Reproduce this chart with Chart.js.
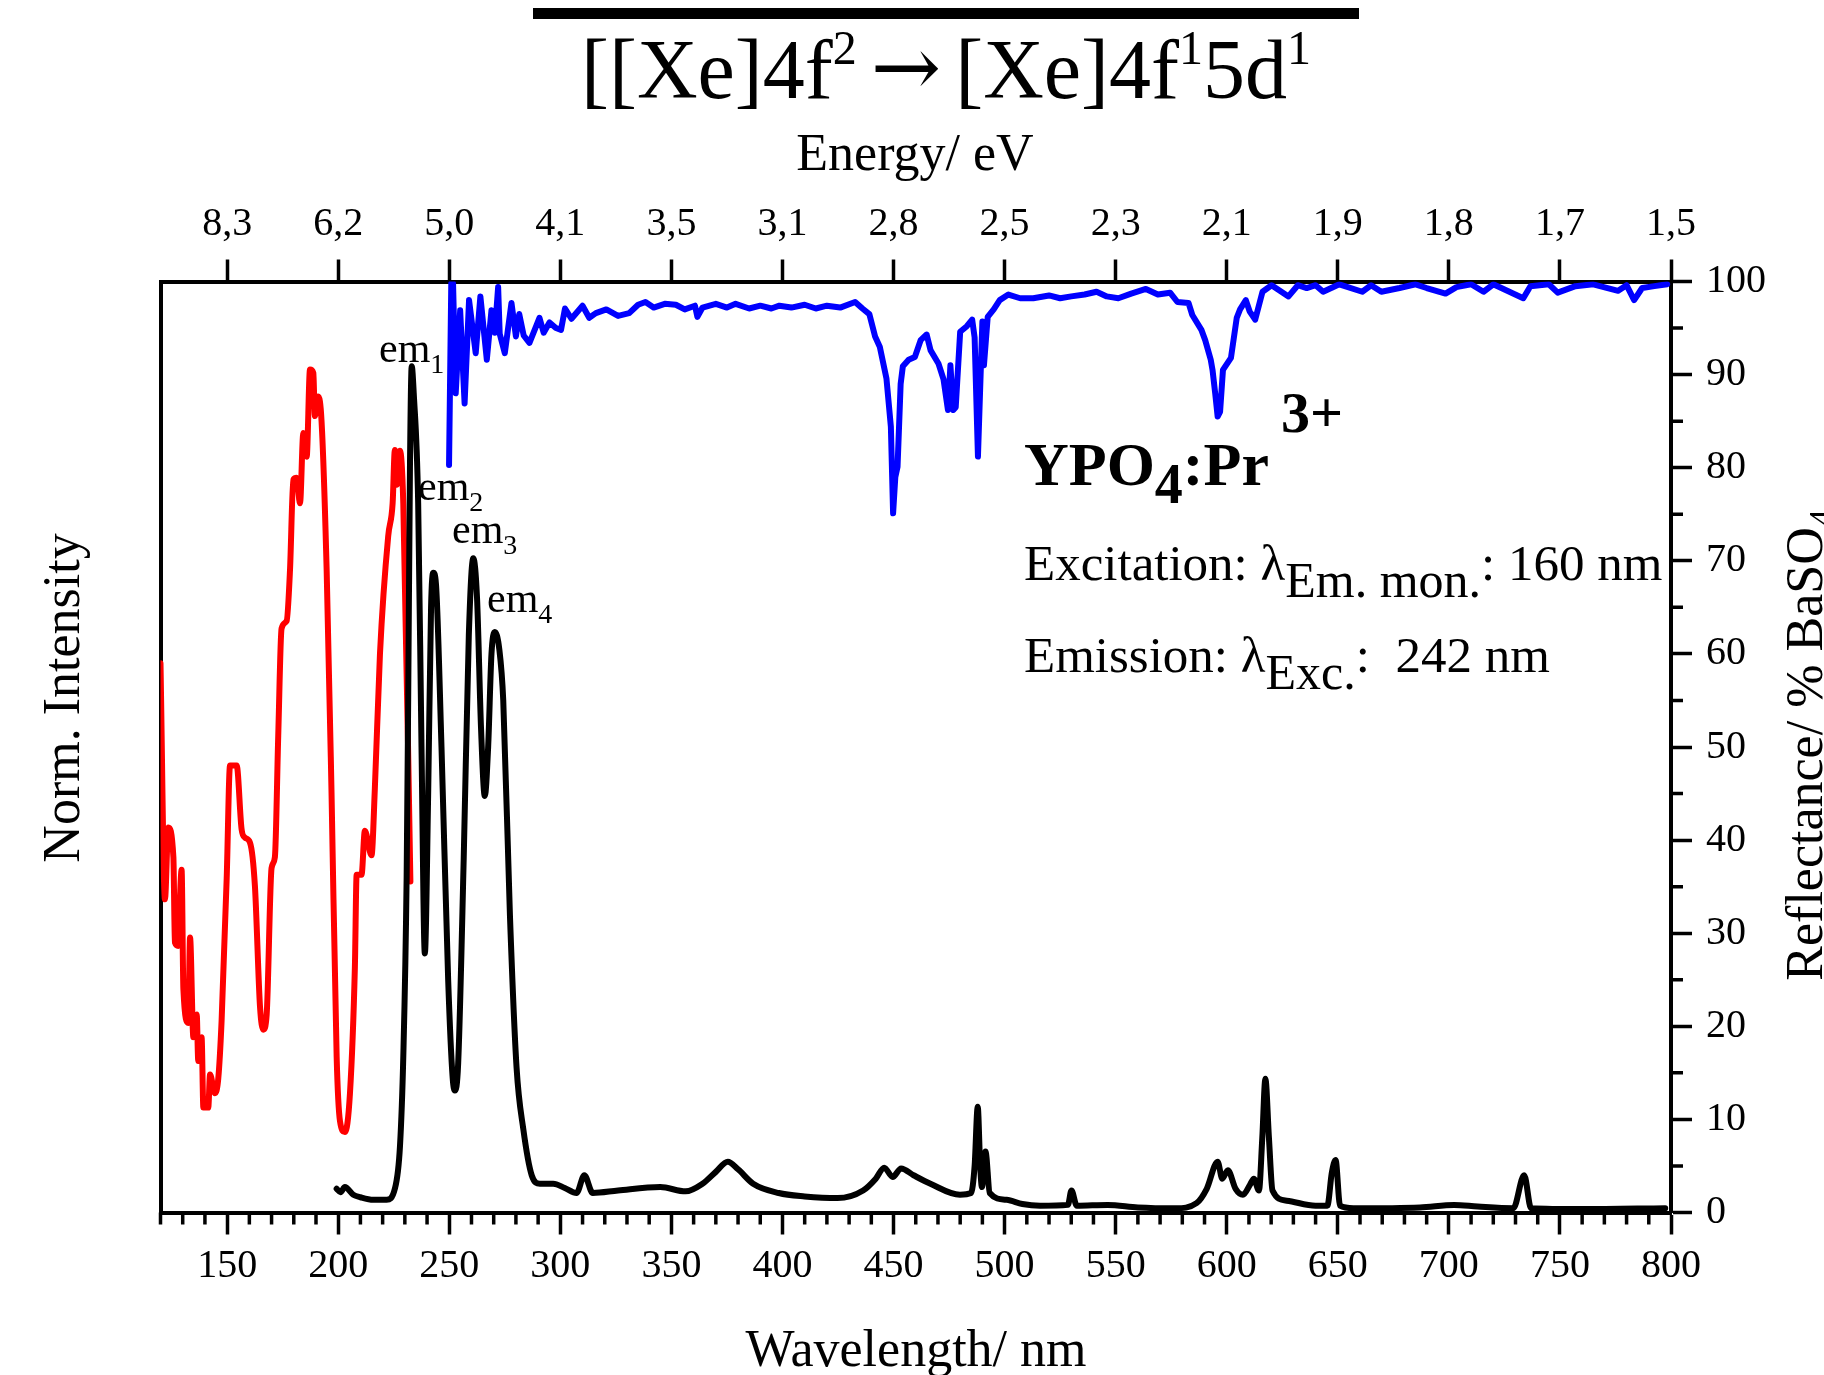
<!DOCTYPE html>
<html>
<head>
<meta charset="utf-8">
<script src="https://cdn.jsdelivr.net/npm/chart.js@4.4.0/dist/chart.umd.min.js"></script>
<style>
  html, body { margin: 0; padding: 0; background: #fff; }
  canvas { display: block; }
</style>
</head>
<body>
<canvas id="spectraChart" width="1824" height="1375"></canvas>
<script>
// Excitation spectrum (red), lambda_em mon. = 160 nm, normalized
const excWavelength = [
  120.0, 122.0, 123.5, 125.8, 126.5, 128.0, 128.8, 129.5, 130.3, 132.5,
  133.3, 134.8, 136.3, 137.0, 138.5, 139.3, 141.5, 142.3, 144.5, 146.0,
  147.5, 149.8, 151.3, 154.3, 156.5, 158.0, 160.3, 162.5, 164.8, 166.3,
  167.8, 170.0, 171.5, 173.0, 174.5, 176.8, 178.3, 179.8, 181.3, 182.8,
  184.3, 185.8, 187.3, 188.8, 189.5, 191.0, 192.5, 194.8, 197.0, 199.3,
  200.8, 203.0, 205.3, 207.5, 208.3, 210.5, 212.0, 215.0, 216.5, 218.8,
  222.5, 224.5, 225.5, 226.5, 227.8, 229.3, 232.5
];
const excIntensity = [
  0.649, 0.370, 0.455, 0.420, 0.319, 0.315, 0.374, 0.405, 0.264, 0.224,
  0.325, 0.207, 0.234, 0.179, 0.207, 0.124, 0.124, 0.163, 0.141, 0.158,
  0.226, 0.395, 0.528, 0.528, 0.453, 0.443, 0.437, 0.386, 0.243, 0.216,
  0.234, 0.407, 0.420, 0.563, 0.690, 0.699, 0.759, 0.866, 0.868, 0.838,
  0.921, 0.893, 0.996, 0.992, 0.941, 0.964, 0.935, 0.759, 0.495, 0.184,
  0.108, 0.095, 0.141, 0.289, 0.399, 0.399, 0.451, 0.422, 0.501, 0.660,
  0.799, 0.838, 0.901, 0.860, 0.900, 0.838, 0.391
];

// Emission spectrum (black), lambda_exc = 242 nm, normalized
const emWavelength = [
  199.3, 201.0, 203.0, 206.8, 210.0, 215.8, 221.8, 225.5, 227.8, 229.3,
  230.8, 231.5, 232.3, 233.1, 234.0, 236.0, 237.5, 239.0, 240.5, 241.8,
  242.8, 244.0, 246.5, 249.5, 251.5, 252.5, 254.0, 256.5, 258.8, 260.8,
  262.5, 264.3, 266.0, 267.5, 269.0, 270.5, 272.5, 274.3, 277.3, 280.3,
  283.3, 287.1, 290.8, 296.8, 302.0, 307.3, 310.8, 314.6, 326.0, 345.0,
  356.4, 364.0, 370.0, 375.4, 380.0, 386.8, 398.3, 410.0, 424.8, 436.3,
  442.0, 445.8, 449.6, 453.4, 459.0, 466.6, 479.9, 484.9, 486.5, 487.9,
  489.0, 489.8, 491.4, 493.3, 500.9, 508.0, 516.0, 528.5, 530.1, 532.5,
  546.4, 560.0, 576.9, 586.4, 591.0, 595.9, 598.0, 600.5, 604.0, 607.3,
  610.5, 612.2, 614.5, 616.0, 617.4, 619.0, 620.6, 627.0, 640.0, 645.3,
  647.3, 649.0, 651.0, 657.0, 687.0, 702.4, 713.0, 729.0, 733.9, 737.0,
  760.0, 797.4
];
const emIntensity = [
  0.028, 0.024, 0.030, 0.021, 0.018, 0.015, 0.015, 0.028, 0.078, 0.184,
  0.395, 0.605, 0.880, 1.000, 0.968, 0.838, 0.550, 0.306, 0.495, 0.715,
  0.756, 0.743, 0.550, 0.275, 0.160, 0.144, 0.176, 0.418, 0.682, 0.773,
  0.726, 0.572, 0.492, 0.550, 0.660, 0.686, 0.666, 0.605, 0.352, 0.171,
  0.099, 0.044, 0.034, 0.034, 0.029, 0.023, 0.044, 0.023, 0.026, 0.030,
  0.025, 0.034, 0.048, 0.060, 0.051, 0.034, 0.023, 0.019, 0.017, 0.026,
  0.040, 0.053, 0.042, 0.052, 0.044, 0.034, 0.021, 0.023, 0.055, 0.125,
  0.055, 0.030, 0.072, 0.023, 0.015, 0.010, 0.008, 0.009, 0.026, 0.008,
  0.009, 0.006, 0.005, 0.011, 0.028, 0.060, 0.040, 0.050, 0.028, 0.021,
  0.033, 0.040, 0.026, 0.088, 0.158, 0.088, 0.026, 0.014, 0.008, 0.008,
  0.047, 0.062, 0.008, 0.005, 0.006, 0.009, 0.007, 0.005, 0.044, 0.005,
  0.004, 0.005
];

// Diffuse reflectance (blue), % of BaSO4
const reflWavelength = [
  249.9, 250.9, 251.7, 252.9, 254.9, 256.9, 258.9, 261.9, 264.0, 266.9,
  269.0, 270.5, 272.0, 272.7, 275.0, 278.0, 280.0, 281.5, 283.5, 286.1,
  290.6, 292.5, 295.1, 298.0, 300.3, 302.1, 305.0, 310.0, 313.0, 316.0,
  320.7, 326.0, 331.0, 335.0, 338.3, 342.0, 347.0, 352.0, 356.0, 360.6,
  361.7, 364.0, 370.0, 375.0, 378.9, 385.0, 390.0, 395.0, 398.6, 404.0,
  410.0, 415.0, 420.0, 426.0, 432.7, 436.0, 439.1, 441.7, 443.8, 446.8,
  448.8, 449.8, 450.8, 451.8, 453.2, 454.2, 456.8, 459.6, 462.2, 464.9,
  466.7, 470.2, 472.5, 474.5, 475.6, 476.9, 478.0, 480.0, 483.0, 485.4,
  486.5, 488.0, 489.2, 490.0, 490.7, 492.4, 495.1, 497.8, 501.7, 507.0,
  512.9, 520.0, 525.0, 530.0, 536.0, 541.4, 546.0, 551.2, 557.0, 563.6,
  569.0, 574.5, 577.8, 582.8, 584.5, 588.6, 590.3, 592.8, 593.6, 594.8,
  595.9, 597.0, 598.3, 601.9, 604.5, 606.0, 608.6, 610.3, 612.8, 616.1,
  620.2, 627.8, 632.0, 636.0, 640.0, 643.4, 650.7, 661.0, 665.0, 669.6,
  677.8, 685.0, 690.0, 698.5, 703.4, 710.0, 715.6, 720.0, 733.5, 736.7,
  745.0, 749.0, 757.0, 765.0, 776.2, 780.0, 783.4, 787.0, 792.5, 798.3
];
const reflValue = [
  80.3, 99.8, 99.8, 88.0, 96.9, 86.9, 98.0, 92.3, 98.4, 91.6,
  96.9, 94.5, 99.4, 94.4, 92.3, 97.7, 94.1, 96.5, 94.2, 93.4,
  96.1, 94.5, 95.6, 95.0, 94.8, 97.1, 96.0, 97.4, 96.1, 96.6,
  97.0, 96.3, 96.6, 97.5, 97.8, 97.2, 97.6, 97.5, 97.0, 97.4,
  96.2, 97.2, 97.6, 97.2, 97.6, 97.1, 97.4, 97.1, 97.4, 97.2,
  97.5, 97.1, 97.4, 97.2, 97.8, 97.1, 96.5, 94.1, 93.0, 89.6,
  84.4, 75.1, 79.0, 80.1, 89.0, 90.9, 91.6, 91.9, 93.7, 94.3,
  92.6, 91.2, 89.5, 86.2, 91.0, 86.2, 86.5, 94.6, 95.2, 95.9,
  94.0, 81.2, 90.0, 95.7, 91.0, 96.2, 97.0, 98.0, 98.6, 98.2,
  98.2, 98.5, 98.2, 98.4, 98.6, 98.9, 98.4, 98.2, 98.7, 99.2,
  98.6, 98.8, 97.8, 97.7, 96.4, 94.8, 93.7, 91.6, 90.5, 88.0,
  85.5, 86.0, 90.5, 91.8, 96.1, 97.0, 98.0, 96.8, 95.9, 98.9,
  99.6, 98.4, 99.6, 99.3, 99.6, 98.9, 99.7, 98.9, 99.6, 98.9,
  99.3, 99.7, 99.3, 98.7, 99.4, 99.7, 98.9, 99.7, 98.2, 99.5,
  99.7, 98.8, 99.5, 99.7, 99.0, 99.6, 98.0, 99.3, 99.5, 99.7
];

// Axis ticks
const wavelengthTicks = [150, 200, 250, 300, 350, 400, 450, 500, 550, 600, 650, 700, 750, 800];
const energyLabels = ["8,3", "6,2", "5,0", "4,1", "3,5", "3,1", "2,8", "2,5", "2,3", "2,1", "1,9", "1,8", "1,7", "1,5"];
const reflTicks = [0, 10, 20, 30, 40, 50, 60, 70, 80, 90, 100];

const SERIF = "'Liberation Serif', 'Times New Roman', serif";
const TICK_FONT = { family: SERIF, size: 40 };

function toPoints(xs, ys) {
  return xs.map((x, i) => ({ x: x, y: ys[i] }));
}

// draws a run of text pieces (sub/superscripts) one after another
function richText(ctx, x, y, parts, align) {
  const fontOf = (p) => `${p.bold ? "bold " : ""}${p.size}px ${p.family || SERIF}`;
  let total = 0;
  parts.forEach((p) => {
    ctx.font = fontOf(p);
    p.w = ctx.measureText(p.t).width + (p.gap || 0);
    total += p.w;
  });
  let cx = align === "center" ? x - total / 2 : x;
  parts.forEach((p) => {
    ctx.font = fontOf(p);
    ctx.fillText(p.t, cx, y + (p.dy || 0));
    cx += p.w;
  });
}

// minor ticks (every 10 nm and every 5 %)
const minorTicks = {
  id: "minorTicks",
  afterDraw(chart) {
    const { ctx, chartArea, scales } = chart;
    ctx.save();
    ctx.strokeStyle = "#000";
    ctx.lineWidth = 3.5;
    ctx.beginPath();
    for (let v = 120; v <= 800; v += 10) {
      if (v % 50 === 0) continue;
      const px = scales.x.getPixelForValue(v);
      ctx.moveTo(px, chartArea.bottom);
      ctx.lineTo(px, chartArea.bottom + 12);
    }
    for (let v = 5; v < 100; v += 10) {
      const py = scales.y.getPixelForValue(v);
      ctx.moveTo(chartArea.right, py);
      ctx.lineTo(chartArea.right + 12, py);
    }
    ctx.stroke();
    ctx.restore();
  },
};

// Titles and labels
const labels = {
  id: "labels",
  afterDraw(chart) {
    const ctx = chart.ctx;
    ctx.save();
    ctx.fillStyle = "#000";
    ctx.textBaseline = "alphabetic";
    ctx.textAlign = "left";

    // heading with bar
    ctx.fillRect(533, 8, 826, 11);
    richText(ctx, 946, 98, [
      { t: "[[Xe]4f", size: 84 },
      { t: "2", size: 48, dy: -34, gap: 14 },
      { t: "\u2192", size: 84, family: "'DejaVu Serif', serif", dy: -2, gap: 14 },
      { t: "[Xe]4f", size: 84 },
      { t: "1", size: 48, dy: -34 },
      { t: "5d", size: 84 },
      { t: "1", size: 48, dy: -34 },
    ], "center");

    richText(ctx, 915, 170, [{ t: "Energy/ eV", size: 52 }], "center");
    richText(ctx, 916, 1366, [{ t: "Wavelength/ nm", size: 52 }], "center");

    // vertical titles
    ctx.save();
    ctx.translate(79, 698);
    ctx.rotate(-Math.PI / 2);
    richText(ctx, 0, 0, [{ t: "Norm. Intensity", size: 52 }], "center");
    ctx.restore();

    ctx.save();
    ctx.translate(1822, 745);
    ctx.rotate(-Math.PI / 2);
    richText(ctx, 0, 0, [
      { t: "Reflectance/ % BaSO", size: 52 },
      { t: "4", size: 36, dy: 12 },
    ], "center");
    ctx.restore();

    // peak labels
    const em = [[379, 362, "1"], [418, 500, "2"], [452, 543, "3"], [487, 612, "4"]];
    em.forEach((e) => {
      richText(ctx, e[0], e[1], [
        { t: "em", size: 42 },
        { t: e[2], size: 28, dy: 11 },
      ]);
    });

    // sample and measurement notes
    richText(ctx, 1024, 485, [
      { t: "YPO", size: 62, bold: true },
      { t: "4", size: 56, dy: 18, bold: true },
      { t: ":Pr", size: 62, bold: true, gap: 12 },
      { t: "3+", size: 58, dy: -53, bold: true },
    ]);
    richText(ctx, 1024, 580, [
      { t: "Excitation: \u03bb", size: 51 },
      { t: "Em. mon.", size: 50, dy: 17 },
      { t: ": 160 nm", size: 51 },
    ]);
    richText(ctx, 1024, 672, [
      { t: "Emission: \u03bb", size: 51 },
      { t: "Exc.", size: 50, dy: 17 },
      { t: ":  242 nm", size: 51 },
    ]);
    ctx.restore();
  },
};

const ctx = document.getElementById("spectraChart").getContext("2d");
new Chart(ctx, {
  type: "line",
  data: {
    datasets: [
      {
        label: "Emission",
        data: toPoints(emWavelength, emIntensity),
        borderColor: "#000000",
        yAxisID: "yL",
        cubicInterpolationMode: "monotone",
      },
      {
        label: "Excitation",
        data: toPoints(excWavelength, excIntensity),
        borderColor: "#ff0000",
        yAxisID: "yL",
        cubicInterpolationMode: "monotone",
      },
      {
        label: "Reflectance",
        data: toPoints(reflWavelength, reflValue),
        borderColor: "#0000ff",
        yAxisID: "y",
        tension: 0,
      },
    ],
  },
  options: {
    responsive: false,
    animation: false,
    devicePixelRatio: 1,
    layout: { padding: 0 },
    datasets: {
      line: {
        borderWidth: 6,
        pointRadius: 0,
        fill: false,
        borderJoinStyle: "round",
        borderCapStyle: "round",
      },
    },
    plugins: {
      legend: { display: false },
      tooltip: { enabled: false },
    },
    scales: {
      x: {
        type: "linear",
        position: "bottom",
        min: 120,
        max: 800,
        afterBuildTicks: (s) => { s.ticks = wavelengthTicks.map((v) => ({ value: v })); },
        afterFit: (s) => { s.height = 162.5; },
        ticks: { font: TICK_FONT, color: "#000", padding: 8, maxRotation: 0, autoSkip: false },
        grid: { drawOnChartArea: false, tickLength: 22, tickWidth: 3.5, tickColor: "#000" },
        border: { width: 4, color: "#000" },
      },
      x2: {
        type: "linear",
        position: "top",
        min: 120,
        max: 800,
        afterBuildTicks: (s) => { s.ticks = wavelengthTicks.map((v) => ({ value: v })); },
        afterFit: (s) => { s.height = 281.5; },
        ticks: {
          font: TICK_FONT, color: "#000", padding: 11, maxRotation: 0, autoSkip: false,
          callback: (v, i) => energyLabels[i],
        },
        grid: { drawOnChartArea: false, tickLength: 22, tickWidth: 3.5, tickColor: "#000" },
        border: { width: 4, color: "#000" },
      },
      yL: {
        position: "left",
        min: 0,
        max: 1.1,
        afterFit: (s) => { s.width = 160.5; },
        ticks: { display: false },
        grid: { drawOnChartArea: false, drawTicks: false },
        border: { width: 4, color: "#000" },
      },
      y: {
        position: "right",
        min: 0,
        max: 100,
        afterBuildTicks: (s) => { s.ticks = reflTicks.map((v) => ({ value: v })); },
        afterFit: (s) => { s.width = 153; },
        ticks: { font: TICK_FONT, color: "#000", padding: 14, autoSkip: false },
        grid: { drawOnChartArea: false, tickLength: 21, tickWidth: 3.5, tickColor: "#000" },
        border: { width: 4, color: "#000" },
      },
    },
  },
  plugins: [minorTicks, labels],
});
</script>
</body>
</html>
